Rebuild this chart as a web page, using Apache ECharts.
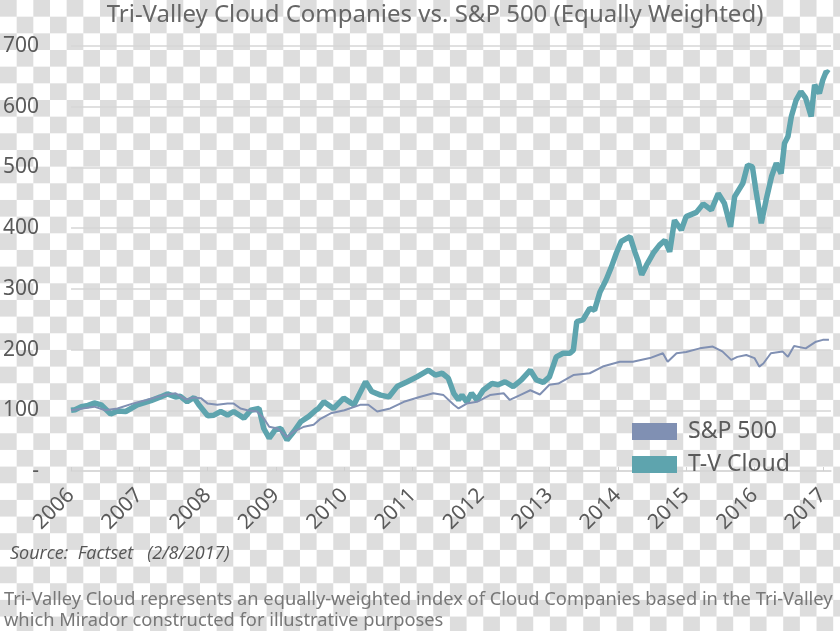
<!DOCTYPE html>
<html>
<head>
<meta charset="utf-8">
<script src="https://cdn.jsdelivr.net/npm/echarts@6/dist/echarts.min.js"></script>
<style>
  html, body { margin: 0; padding: 0; }
  body {
    width: 840px; height: 631px; overflow: hidden;
    background: repeating-conic-gradient(#ffffff 0 25%, #dddddd 0 50%) 0 0 / 33.34px 33.34px;
  }
  #chart { width: 840px; height: 631px; }
</style>
</head>
<body>
<div id="chart"></div>
<script>
// ---- Data ----
const titleText = 'Tri-Valley Cloud Companies vs. S&P 500 (Equally Weighted)';
const seriesNames = ['S&P 500', 'T-V Cloud'];
const yearTicks = [2006, 2007, 2008, 2009, 2010, 2011, 2012, 2013, 2014, 2015, 2016, 2017];

const tvX = [2006.00,2006.06,2006.15,2006.25,2006.34,2006.44,2006.58,2006.68,2006.80,2006.97,
  2007.17,2007.31,2007.41,2007.53,2007.60,2007.70,2007.80,2007.87,2008.00,2008.09,
  2008.19,2008.29,2008.38,2008.53,2008.63,2008.75,2008.82,2008.90,2008.99,2009.07,
  2009.16,2009.26,2009.36,2009.48,2009.58,2009.62,2009.70,2009.84,2009.99,2010.14,
  2010.31,2010.40,2010.53,2010.65,2010.77,2010.92,2011.06,2011.23,2011.33,2011.43,
  2011.52,2011.60,2011.67,2011.72,2011.79,2011.86,2011.94,2012.03,2012.16,2012.25,
  2012.35,2012.47,2012.59,2012.72,2012.81,2012.91,2013.00,2013.10,2013.20,2013.30,
  2013.35,2013.40,2013.49,2013.59,2013.66,2013.74,2013.83,2013.91,2013.98,2014.05,
  2014.13,2014.18,2014.25,2014.30,2014.35,2014.42,2014.52,2014.61,2014.69,2014.76,
  2014.83,2014.93,2015.00,2015.15,2015.25,2015.37,2015.47,2015.56,2015.65,2015.71,
  2015.83,2015.90,2015.97,2016.02,2016.10,2016.17,2016.25,2016.32,2016.39,2016.44,
  2016.49,2016.54,2016.61,2016.68,2016.75,2016.83,2016.88,2016.95,2017.00,2017.05,2017.09];
const tvY = [100,101,106,108,112,109,94,99,98,109,
  116,122,127,122,123,114,121,109,91,92,
  98,92,98,87,100,103,70,54,68,70,
  51,65,81,90,100,103,114,103,120,109,
  147,131,125,122,139,147,155,166,158,161,
  153,128,117,125,114,128,117,133,144,142,
  147,139,150,166,150,146,155,188,194,194,
  199,246,249,268,265,295,315,337,359,378,
  383,386,361,345,323,339,359,372,380,361,
  413,397,419,426,440,430,457,441,402,452,
  474,504,501,463,408,446,485,507,490,540,
  551,584,611,625,614,584,636,622,644,658,655];

const spX = [2006.00,2006.34,2006.50,2006.68,2006.90,2007.10,2007.36,2007.53,2007.68,2007.80,
  2007.90,2008.00,2008.14,2008.29,2008.38,2008.48,2008.58,2008.72,2008.82,2008.90,
  2009.02,2009.16,2009.26,2009.41,2009.55,2009.65,2009.80,2010.00,2010.23,2010.35,
  2010.48,2010.67,2010.87,2011.10,2011.30,2011.45,2011.60,2011.67,2011.79,2011.94,
  2012.13,2012.33,2012.42,2012.57,2012.72,2012.86,2013.00,2013.13,2013.35,2013.59,
  2013.78,2014.03,2014.22,2014.47,2014.66,2014.73,2014.86,2015.00,2015.20,2015.39,
  2015.53,2015.66,2015.75,2015.88,2016.00,2016.07,2016.13,2016.24,2016.41,2016.49,
  2016.58,2016.75,2016.90,2017.00,2017.09];
const spY = [100,106,100,103,111,117,125,128,118,121,
  120,111,109,111,111,103,100,98,87,73,
  70,56,65,73,76,86,95,100,109,109,
  98,103,114,122,128,125,109,103,111,114,
  125,128,117,125,133,126,142,144,158,161,
  172,180,180,186,194,180,194,196,202,205,
  197,183,188,191,186,172,177,194,197,188,
  206,202,213,216,216];

const yMin = 0, yMax = 700, yStep = 100;

// ---- Chart ----
const zip = (xs, ys) => xs.map((x, i) => [x, ys[i]]);
const chart = echarts.init(document.getElementById('chart'), null, { renderer: 'canvas' });
const mainFont = '"Noto Sans", "DejaVu Sans", sans-serif';
const textGray = '#5a5a5a';

chart.setOption({
  backgroundColor: 'transparent',
  animation: false,
  title: {
    text: titleText,
    left: 430, top: -2, textAlign: 'center',
    textStyle: { fontFamily: mainFont, fontSize: 24, fontWeight: 'normal', color: '#666' }
  },
  grid: { left: 70, right: 9, top: 46, bottom: 160 },
  legend: {
    data: seriesNames,
    orient: 'vertical', left: 627, top: 415,
    itemWidth: 45, itemHeight: 17, itemGap: 10,
    icon: 'rect',
    textStyle: { fontFamily: mainFont, fontSize: 23, color: textGray, padding: [0, 0, 0, 6] }
  },
  xAxis: {
    type: 'value', min: yearTicks[0], max: 2017.12, interval: 1,
    axisLine: { show: true, lineStyle: { color: '#d6d6d6', width: 1.5 } },
    axisTick: { show: true, inside: true, length: 4, lineStyle: { color: '#cfcfcf' } },
    splitLine: { show: false },
    axisLabel: {
      rotate: 45, margin: 21, fontFamily: mainFont, fontSize: 21, color: textGray,
      showMaxLabel: false,
      formatter: v => (yearTicks.indexOf(Math.round(v)) >= 0 && Math.abs(v - Math.round(v)) < 1e-6) ? String(Math.round(v)) : ''
    }
  },
  yAxis: {
    type: 'value', min: yMin, max: yMax, interval: yStep,
    axisLine: { show: false }, axisTick: { show: false },
    splitLine: { show: true, lineStyle: { color: '#d6d6d6', width: 1.5 } },
    axisLabel: {
      margin: 32, fontFamily: mainFont, fontSize: 21, color: textGray,
      formatter: v => v === 0 ? '-' : String(v)
    }
  },
  series: [
    {
      name: seriesNames[0], type: 'line', showSymbol: false, z: 3,
      data: zip(spX, spY),
      itemStyle: { color: '#8090b3' },
      lineStyle: { color: '#8090b3', width: 2 }
    },
    {
      name: seriesNames[1], type: 'line', showSymbol: false, z: 2,
      data: zip(tvX, tvY),
      itemStyle: { color: '#5ea4ae' },
      lineStyle: { color: '#5ea4ae', width: 5.5 }
    }
  ],
  graphic: [
    { type: 'text', left: 10, top: 545,
      style: { text: 'Source:  Factset   (2/8/2017)', fontFamily: '"Open Sans", "Liberation Sans", sans-serif',
               fontStyle: 'italic', fontSize: 18, fill: '#555' } },
    { type: 'text', left: 4, top: 591,
      style: { text: 'Tri-Valley Cloud represents an equally-weighted index of Cloud Companies based in the Tri-Valley',
               fontFamily: mainFont, fontSize: 18.3, fill: '#777' } },
    { type: 'text', left: 4, top: 612,
      style: { text: 'which Mirador constructed for illustrative purposes',
               fontFamily: mainFont, fontSize: 18.3, fill: '#777' } }
  ]
});
</script>
</body>
</html>
